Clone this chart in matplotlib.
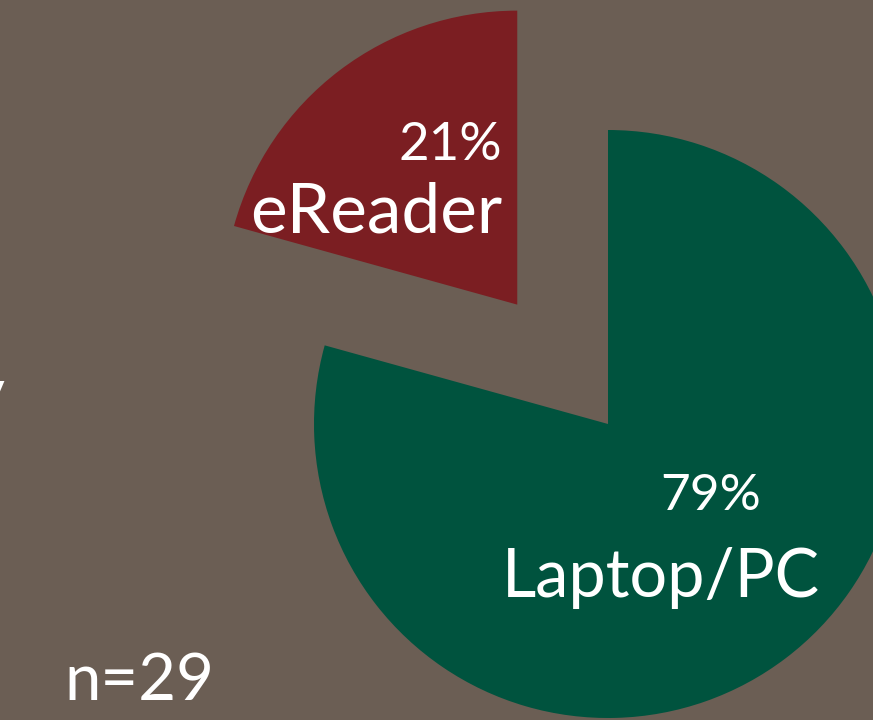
import matplotlib
matplotlib.use("Agg")
from matplotlib import pyplot as plt

# data: respondents per device (n=29 -> 21% / 79%)
labels = ["eReader", "Laptop/PC"]
counts = [6, 23]
n_total = sum(counts)

bg = "#6B5E54"
colors = ["#7B1E22", "#00533E"]

plt.rcParams['font.family'] = ['Lato', 'DejaVu Sans']

fig = plt.figure(figsize=(8.73, 7.2), dpi=100, facecolor=bg)
ax = fig.add_axes([0, 0, 1, 1])
ax.set_facecolor(bg)

ax.pie(counts, colors=colors, startangle=90, counterclock=True,
       explode=[0.51, 0], radius=1, wedgeprops=dict(linewidth=0))

# pie radius = 294 px, centre of green slice at (608, 424) px
ax.set_xlim(-608 / 294, (873 - 608) / 294)
ax.set_ylim((424 - 720) / 294, 424 / 294)
ax.set_aspect('auto')
ax.axis('off')

pct = [round(100 * c / n_total) for c in counts]

# slice labels
ax.text(-0.36, 0.653, labels[0], color="white", fontsize=50,
        ha="right", va="baseline")
ax.text(-0.36, 0.898, f"{pct[0]}%", color="white", fontsize=38,
        ha="right", va="baseline")
ax.text(0.180, -0.588, labels[1], color="white", fontsize=48,
        ha="center", va="baseline")
ax.text(0.350, -0.293, f"{pct[1]}%", color="white", fontsize=37,
        ha="center", va="baseline")

# sample size and cut-off title fragment
ax.text(-1.85, -0.939, f"n={n_total}", color="white", fontsize=47,
        ha="left", va="baseline")
ax.text(-2.053, 0.035, "y", color="white", fontsize=46,
        ha="right", va="baseline")

fig.savefig("out.png", dpi=100, facecolor=bg)
